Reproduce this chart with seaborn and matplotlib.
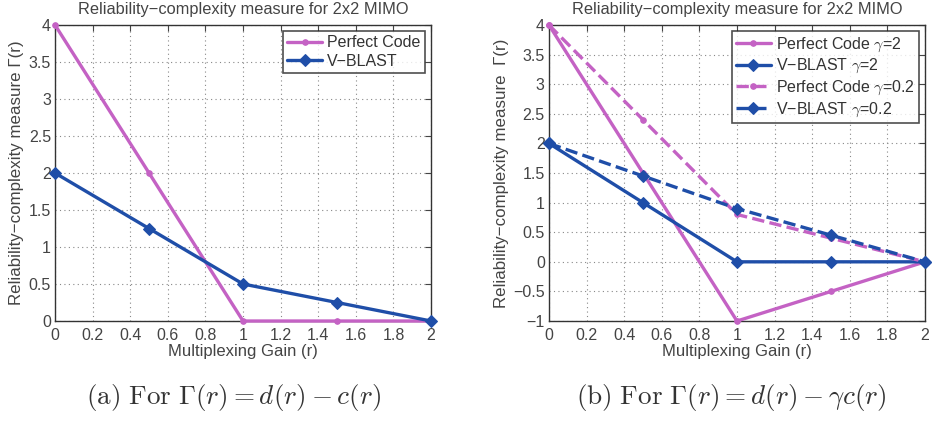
import matplotlib
matplotlib.use('Agg')
from matplotlib import pyplot as plt
import pandas as pd
import seaborn as sns

# multiplexing gain
r = [0, 0.5, 1, 1.5, 2]

# (a) gamma = 1
pc_a = [4, 2, 0, 0, 0]
vb_a = [2, 1.25, 0.5, 0.25, 0]

# (b) two values of gamma
pc_g2 = [4, 1.5, -1, -0.5, 0]
vb_g2 = [2, 1, 0, 0, 0]
pc_g02 = [4, 2.4, 0.8, 0.4, 0]
vb_g02 = [2, 1.45, 0.9, 0.45, 0]

xticks = [0, 0.2, 0.4, 0.6, 0.8, 1, 1.2, 1.4, 1.6, 1.8, 2]
xticklabels = ['0', '0.2', '0.4', '0.6', '0.8', '1', '1.2', '1.4', '1.6', '1.8', '2']
yticks_a = [0, 0.5, 1, 1.5, 2, 2.5, 3, 3.5, 4]
yticks_b = [-1, -0.5, 0, 0.5, 1, 1.5, 2, 2.5, 3, 3.5, 4]

PINK = '#c462c4'
BLUE = '#1f4ea8'
FS = 11.5

sns.set_style("white")
plt.rcParams['font.family'] = ['Liberation Sans', 'DejaVu Sans']
plt.rcParams['mathtext.fontset'] = 'cm'

fig = plt.figure(figsize=(9.33, 4.21), dpi=100)
ax1 = fig.add_axes([0.059, 0.2375, 0.403, 0.703])
ax2 = fig.add_axes([0.5884, 0.2375, 0.403, 0.703])


def draw(ax, series, yticks, ylim, ylabel):
    for name, vals, col, mk, ls, ms in series:
        df = pd.DataFrame({'r': r, 'val': vals})
        sns.lineplot(data=df, x='r', y='val', ax=ax, color=col, marker=mk,
                     linestyle=ls, linewidth=2.4, markersize=ms,
                     markeredgecolor=col, label=name, clip_on=False,
                     zorder=3)
    ax.set_xlim(0, 2)
    ax.set_ylim(*ylim)
    ax.set_xticks(xticks)
    ax.set_xticklabels(xticklabels)
    ax.set_yticks(yticks)
    ax.set_yticklabels([('%g' % t).replace('-', '\u2212') for t in yticks])
    ax.grid(True, linestyle=(0, (1, 3)), color='#888888', linewidth=0.8)
    ax.tick_params(direction='in', length=4, width=0.8, labelsize=FS,
                   colors='#444444', pad=3, top=True, right=True,
                   labeltop=False, labelright=False)
    ax.tick_params(axis='x', pad=5)
    for s in ax.spines.values():
        s.set_color('#333333')
        s.set_linewidth(1.0)
    ax.set_xlabel('Multiplexing Gain (r)', fontsize=12, color='#444444', labelpad=1)
    ax.set_ylabel(ylabel, fontsize=12.2, color='#444444', labelpad=3)
    ax.set_title('Reliability\u2212complexity measure for 2x2 MIMO',
                 fontsize=11.8, color='#444444', pad=8)
    leg = ax.legend(loc='upper right', fontsize=FS, frameon=True, fancybox=False,
                    edgecolor='#222222', handlelength=2.2, handletextpad=0.3,
                    borderpad=0.25, labelspacing=0.2, borderaxespad=0.4)
    leg.get_frame().set_linewidth(1.2)
    for t in leg.get_texts():
        t.set_color('#333333')


draw(ax1,
     [('Perfect Code', pc_a, PINK, 'o', '-', 4),
      ('V\u2212BLAST', vb_a, BLUE, 'D', '-', 6.5)],
     yticks_a, (0, 4), 'Reliability\u2212complexity measure \u0393(r)')

draw(ax2,
     [('Perfect Code $\\gamma$=2', pc_g2, PINK, 'o', '-', 4),
      ('V\u2212BLAST $\\gamma$=2', vb_g2, BLUE, 'D', '-', 6.5),
      ('Perfect Code $\\gamma$=0.2', pc_g02, PINK, 'o', '--', 4),
      ('V\u2212BLAST $\\gamma$=0.2', vb_g02, BLUE, 'D', '--', 6.5)],
     yticks_b, (-1, 4), 'Reliability\u2212complexity measure  \u0393(r)')

fig.text(0.250, 0.055, r'$\mathrm{(a)\ For\ }\Gamma(r) = d(r) - c(r)$',
         fontsize=19.5, ha='center', va='center', color='#333333')
fig.text(0.784, 0.055, r'$\mathrm{(b)\ For\ }\Gamma(r) = d(r) - \gamma c(r)$',
         fontsize=19.5, ha='center', va='center', color='#333333')

fig.savefig('out.png', dpi=100)
